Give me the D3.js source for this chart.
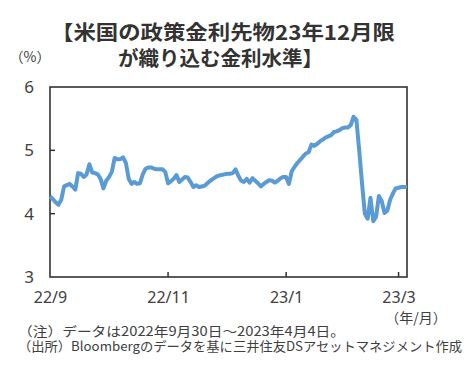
<!DOCTYPE html>
<html><head><meta charset="utf-8">
<script src="https://cdn.jsdelivr.net/npm/d3@7/dist/d3.min.js"></script>
<style>
body{margin:0;background:#fff;}
text{font-family:"Noto Sans CJK JP","Noto Sans",sans-serif;fill:#404040;}
</style></head><body>
<svg id="c" width="475" height="374"></svg>
<script>
// ---- data ----
const titleLines = ["【米国の政策金利先物23年12月限", "が織り込む金利水準】"];
const unitLabel = "（%）";
const xUnitLabel = "（年/月）";
const notes = ["（注）データは2022年9月30日～2023年4月4日。", "（出所）Bloombergのデータを基に三井住友DSアセットマネジメント作成"];
const yTicks = [3, 4, 5, 6];
const xTickIndex = [0, 42, 84, 124];
const xTickLabels = ["22/9", "22/11", "23/1", "23/3"];
const rates = [
4.27,4.23,4.18,4.14,4.22,4.43,4.45,4.47,4.43,4.38,
4.64,4.63,4.58,4.62,4.78,4.65,4.64,4.62,4.55,4.40,
4.52,4.58,4.66,4.88,4.86,4.86,4.89,4.80,4.55,4.47,
4.50,4.47,4.48,4.62,4.71,4.73,4.73,4.71,4.70,4.70,
4.70,4.66,4.48,4.51,4.55,4.61,4.50,4.54,4.58,4.57,
4.50,4.42,4.45,4.42,4.43,4.44,4.48,4.52,4.55,4.58,
4.60,4.61,4.62,4.63,4.63,4.64,4.70,4.60,4.52,4.50,
4.55,4.49,4.56,4.52,4.48,4.43,4.47,4.50,4.53,4.52,
4.49,4.52,4.56,4.58,4.58,4.47,4.67,4.74,4.80,4.85,
4.90,4.95,4.97,5.09,5.07,5.10,5.14,5.17,5.20,5.22,
5.24,5.29,5.30,5.32,5.35,5.36,5.36,5.40,5.53,5.48,
5.00,4.48,4.00,3.92,4.25,3.88,3.95,4.28,4.20,4.01,
4.05,4.22,4.32,4.40,4.41,4.42,4.42,4.42];

// ---- layout ----
const svg = d3.select("#c");
const L = 50, R = 407, T = 87, B = 277;
const x = d3.scaleLinear().domain([0, rates.length - 1]).range([L, R]);
const y = d3.scaleLinear().domain([3, 6]).range([B, T]);

// title
svg.append("text").attr("x", 223).attr("y", 40).attr("text-anchor", "middle")
  .style("font-size", "20px").style("font-weight", "bold").style("fill", "#333")
  .attr("textLength", 344).attr("lengthAdjust", "spacingAndGlyphs").text(titleLines[0]);
svg.append("text").attr("x", 220.5).attr("y", 66).attr("text-anchor", "middle")
  .style("font-size", "20px").style("font-weight", "bold").style("fill", "#333")
  .attr("textLength", 205).attr("lengthAdjust", "spacingAndGlyphs").text(titleLines[1]);

svg.append("text").attr("x", 30).attr("y", 62).attr("text-anchor", "middle")
  .style("font-size", "14px").text(unitLabel);

// axes
const yAxis = d3.axisLeft(y).tickValues(yTicks).tickSize(0).tickPadding(16).tickFormat(d3.format("d"));
const gy = svg.append("g").attr("transform", `translate(${L},0)`).call(yAxis);
gy.select(".domain").remove();
gy.selectAll("text").style("font-size", "17px").style("font-family", "'Noto Sans','DejaVu Sans',sans-serif").style("fill", "#404040");

// inner y ticks
svg.append("g").selectAll("line").data([4, 5]).join("line")
  .attr("x1", L).attr("x2", L + 5).attr("y1", d => y(d)).attr("y2", d => y(d))
  .attr("stroke", "#333").attr("stroke-width", 1.5);

const xAxis = d3.axisBottom(x).tickValues(xTickIndex).tickSize(0).tickPadding(15)
  .tickFormat((d, i) => xTickLabels[i]);
const gx = svg.append("g").attr("transform", `translate(0,${B})`).call(xAxis);
gx.select(".domain").remove();
gx.selectAll("text").style("font-size", "16px").style("font-family", "'Noto Sans','DejaVu Sans',sans-serif").style("fill", "#404040");

svg.append("g").selectAll("line").data(xTickIndex.slice(1)).join("line")
  .attr("x1", d => x(d)).attr("x2", d => x(d)).attr("y1", B).attr("y2", B - 5)
  .attr("stroke", "#333").attr("stroke-width", 1.5);

// frame
svg.append("rect").attr("x", L).attr("y", T).attr("width", R - L).attr("height", B - T)
  .attr("fill", "none").attr("stroke", "#333").attr("stroke-width", 1.6);

// line
const line = d3.line().x((d, i) => x(i)).y(d => y(d));
svg.append("path").datum(rates).attr("d", line).attr("fill", "none")
  .attr("stroke", "#5B9BD5").attr("stroke-width", 4).attr("stroke-linejoin", "round");

// x unit
svg.append("text").attr("x", 416).attr("y", 323).attr("text-anchor", "middle")
  .style("font-size", "14px").text(xUnitLabel);

// notes
svg.append("text").attr("x", 18).attr("y", 336).style("font-size", "13px")
  .attr("textLength", 327).attr("lengthAdjust", "spacingAndGlyphs").text(notes[0]);
svg.append("text").attr("x", 18).attr("y", 351).style("font-size", "13px")
  .attr("textLength", 444).attr("lengthAdjust", "spacingAndGlyphs").text(notes[1]);
</script>
</body></html>
